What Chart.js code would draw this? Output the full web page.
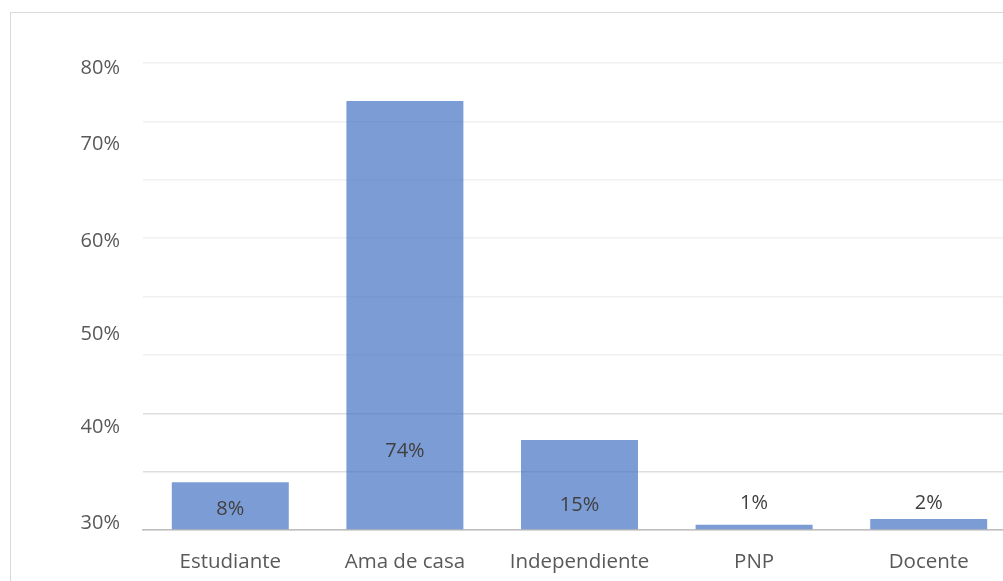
<!DOCTYPE html>
<html>
<head>
<meta charset="utf-8">
<script src="https://cdn.jsdelivr.net/npm/chart.js@4"></script>
<style>
  html, body { margin: 0; padding: 0; background: #fff; overflow: hidden; }
  #wrap { position: relative; width: 1003px; height: 581px; overflow: hidden; }
  #frame { position: absolute; left: 10px; top: 12px; width: 1100px; height: 700px; border: 1px solid #d9d9d9; box-sizing: border-box; }
  #box { position: absolute; left: 0; top: 0; width: 1016px; height: 581px; }
</style>
</head>
<body>
<div id="wrap">
  <div id="frame"></div>
  <div id="box"><canvas id="c"></canvas></div>
</div>
<script>
// categories and values (percent)
const categories = ['Estudiante', 'Ama de casa', 'Independiente', 'PNP', 'Docente'];
const values = [8.2, 73.5, 15.4, 0.9, 1.9];
const valueLabels = ['8%', '74%', '15%', '1%', '2%'];
// where each value label sits, in axis units
const labelAt = [3.6, 13.4, 4.3, 4.6, 4.6];
// tick labels on the left and where they sit, in axis units
const tickTexts = ['30%', '40%', '50%', '60%', '70%', '80%'];
const tickAt = [1.2, 17.6, 33.55, 49.5, 66.1, 79.1];

const FONT = '"Open Sans", Lato, sans-serif';

const valueLabelPlugin = {
    id: 'valueLabels',
    afterDatasetsDraw(chart) {
        const ctx = chart.ctx;
        const meta = chart.getDatasetMeta(0);
        const y = chart.scales.y;
        ctx.save();
        ctx.font = '20px ' + FONT;
        ctx.fillStyle = '#404040';
        ctx.textAlign = 'center';
        ctx.textBaseline = 'middle';
        meta.data.forEach((bar, i) => {
            ctx.fillText(valueLabels[i], bar.x, y.getPixelForValue(labelAt[i]));
        });
        ctx.restore();
    },
};

new Chart(document.getElementById('c'), {
    type: 'bar',
    data: {
        labels: categories,
        datasets: [{
            data: values,
            backgroundColor: 'rgba(68, 114, 196, 0.7)',
            borderWidth: 0,
            barPercentage: 0.67,
            categoryPercentage: 1,
        }],
    },
    options: {
        responsive: true,
        maintainAspectRatio: false,
        animation: false,
        layout: { padding: { top: 63, right: 0, bottom: 0, left: 0 } },
        plugins: { legend: { display: false }, tooltip: { enabled: false } },
        scales: {
            x: {
                grid: { display: false },
                border: { color: '#bfbfbf', width: 1.5 },
                ticks: { color: '#595959', font: { size: 20.5, family: FONT }, padding: 12, maxRotation: 0 },
                afterFit: (axis) => { axis.height = 51; },
            },
            y: {
                min: 0,
                max: 80,
                ticks: { stepSize: 10, display: false },
                grid: {
                    color: (c) => (c.tick.value <= 20 ? '#dedede' : '#f0f0f0'),
                    lineWidth: 1.5,
                    drawTicks: false,
                },
                border: { display: false },
                afterFit: (axis) => { axis.width = 0; },
            },
            yl: {
                position: 'left',
                min: 0,
                max: 80,
                grid: { display: false, drawTicks: false },
                border: { display: false },
                afterBuildTicks: (axis) => { axis.ticks = tickAt.map((v) => ({ value: v })); },
                ticks: {
                    color: '#595959',
                    font: { size: 20, family: FONT },
                    padding: 23,
                    callback: (v, i) => tickTexts[i],
                },
                afterFit: (axis) => { axis.width = 143; },
            },
        },
    },
    plugins: [valueLabelPlugin],
});
</script>
</body>
</html>
